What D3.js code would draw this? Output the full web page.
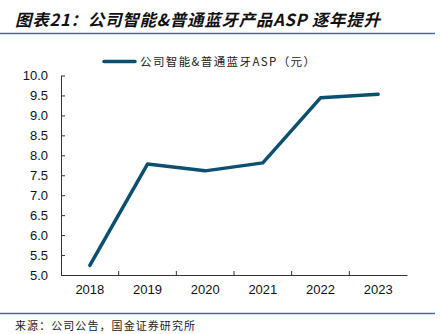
<!DOCTYPE html>
<html><head><meta charset="utf-8">
<script src="https://cdn.jsdelivr.net/npm/d3@7/dist/d3.min.js"></script>
<style>body{margin:0;background:#fff}svg{display:block}</style>
</head><body>
<svg id="c" width="443" height="334"></svg>
<script>
const years = ["2018","2019","2020","2021","2022","2023"];
const asp = [5.24, 7.78, 7.61, 7.81, 9.44, 9.53];
const yTicks = [5.0,5.5,6.0,6.5,7.0,7.5,8.0,8.5,9.0,9.5,10.0];
const titleText = "图表21：公司智能&普通蓝牙产品ASP 逐年提升";
const legendText = "公司智能&普通蓝牙ASP（元）";
const sourceText = "来源：公司公告，国金证券研究所";

const svg = d3.select("#c");
const m = {left:61, right:407, top:75.5, bottom:275};
const color = "#0b4f71";
const font = "'Liberation Sans', Arial, sans-serif";
const cjk = "'Noto Sans CJK SC', sans-serif";

// title
svg.append("text").attr("x",15).attr("y",26)
  .attr("font-family",cjk).attr("font-size",16.5).attr("font-weight","bold")
  .attr("font-style","italic").attr("fill","#111")
  .attr("textLength",365).attr("lengthAdjust","spacing")
  .text(titleText);
svg.append("line").attr("x1",0).attr("x2",435).attr("y1",33.5).attr("y2",33.5)
  .attr("stroke","#3f7194").attr("stroke-width",1.5);

// legend
svg.append("line").attr("x1",104).attr("x2",135).attr("y1",61.5).attr("y2",61.5)
  .attr("stroke",color).attr("stroke-width",3.5).attr("stroke-linecap","round");
svg.append("text").attr("x",140).attr("y",66).attr("font-family",cjk)
  .attr("font-size",11.5).attr("fill","#222")
  .attr("textLength",175).attr("lengthAdjust","spacing").text(legendText);

const x = d3.scaleBand().domain(years).range([m.left, m.right]);
const y = d3.scaleLinear().domain([5,10]).range([m.bottom, m.top]);

// y axis
const ya = svg.append("g").attr("transform",`translate(${m.left},0)`)
  .call(d3.axisLeft(y).tickValues(yTicks).tickFormat(d3.format(".1f")).tickSizeInner(-4).tickSizeOuter(0).tickPadding(13));
ya.select(".domain").attr("stroke","#333");
ya.selectAll(".tick line").attr("stroke","#333");
ya.selectAll("text").attr("font-family",font).attr("font-size",13).attr("fill","#111");

// x axis
const xa = svg.append("g").attr("transform",`translate(0,${m.bottom})`)
  .call(d3.axisBottom(x).tickSize(0).tickPadding(10));
xa.select(".domain").attr("stroke","#333");
xa.selectAll("text").attr("font-family",font).attr("font-size",13).attr("fill","#111");
svg.append("g").selectAll("line").data(years.slice(1)).join("line")
  .attr("x1",d=>x(d)).attr("x2",d=>x(d))
  .attr("y1",m.bottom).attr("y2",m.bottom-4).attr("stroke","#333");

// line
const line = d3.line().x((d,i)=>x(years[i])+x.bandwidth()/2).y(d=>y(d));
svg.append("path").datum(asp).attr("d",line).attr("fill","none")
  .attr("stroke",color).attr("stroke-width",3.5).attr("stroke-linecap","round").attr("stroke-linejoin","round");

// bottom rule and source
svg.append("line").attr("x1",0).attr("x2",435).attr("y1",313.5).attr("y2",313.5)
  .attr("stroke","#3f7194").attr("stroke-width",1.5);
svg.append("text").attr("x",15).attr("y",330).attr("font-family",cjk)
  .attr("font-size",11).attr("fill","#222")
  .attr("textLength",180).attr("lengthAdjust","spacing").text(sourceText);
</script>
</body></html>
